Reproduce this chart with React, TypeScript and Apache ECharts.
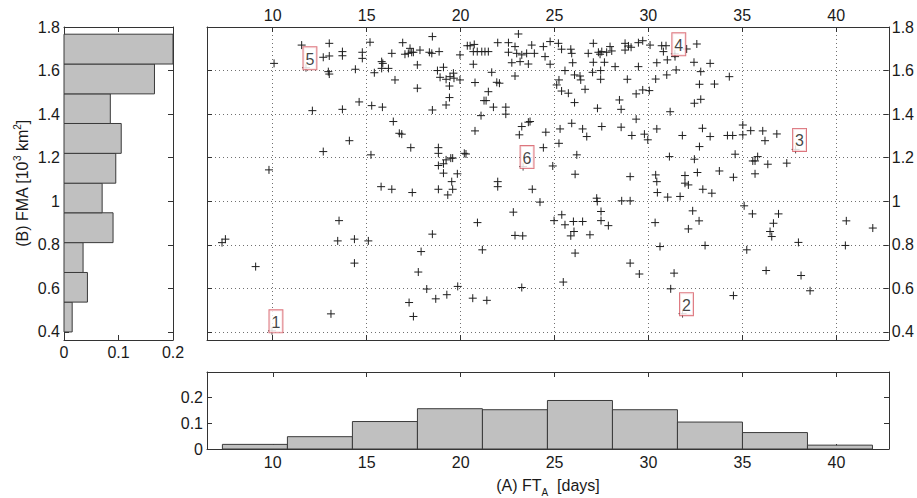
import React, { useEffect, useRef } from 'react';
import * as echarts from 'echarts';

// ---------- data ----------
const ftaTicks = [10, 15, 20, 25, 30, 35, 40];
const fmaTicks = [0.4, 0.6, 0.8, 1.0, 1.2, 1.4, 1.6, 1.8];
const freqTicks = [0, 0.1, 0.2];

// FT_A histogram (bottom panel): bin edges and relative frequency
const ftaEdges = [7.32, 10.78, 14.24, 17.7, 21.16, 24.62, 28.08, 31.54, 35.0, 38.46, 41.92];
const ftaFreq = [0.018, 0.048, 0.107, 0.157, 0.153, 0.189, 0.153, 0.105, 0.064, 0.015];

// FMA histogram (left panel): bin edges and relative frequency
const fmaEdges = [0.4, 0.537, 0.673, 0.81, 0.947, 1.083, 1.22, 1.357, 1.493, 1.63, 1.767];
const fmaFreq = [0.015, 0.043, 0.035, 0.09, 0.07, 0.095, 0.105, 0.085, 0.166, 0.2];

// labelled events
const markerNames = ['1', '2', '3', '4', '5', '6'];
const markerFT = [9.96, 31.82, 37.84, 31.41, 11.77, 23.33];
const markerFMA = [0.405, 0.484, 1.238, 1.677, 1.613, 1.159];

// scatter samples [FT_A days, FMA 10^3 km^2]
const samples = [
  [11.54, 1.717], [10.07, 1.633], [13.01, 1.725], [12.69, 1.661], [13.01, 1.667], [13.71, 1.687], [13.71, 1.668],
  [14.77, 1.684], [14.77, 1.656], [15.18, 1.73], [16.34, 1.679], [15.8, 1.641], [15.86, 1.633], [15.8, 1.61],
  [16.16, 1.61], [14.4, 1.606], [12.96, 1.595], [13.01, 1.584], [15.41, 1.59], [16.51, 1.557], [12.11, 1.416],
  [13.71, 1.422], [14.6, 1.456], [15.27, 1.439], [15.84, 1.432], [16.42, 1.366], [16.74, 1.312], [14.08, 1.278],
  [12.69, 1.228], [15.23, 1.213], [9.8, 1.144],
  [18.5, 1.756], [16.92, 1.728], [17.04, 1.675], [17.22, 1.679], [17.4, 1.684], [17.49, 1.684], [17.31, 1.702],
  [17.84, 1.694], [18.34, 1.684], [18.47, 1.679], [18.86, 1.687], [19.97, 1.672], [20.36, 1.714], [20.51, 1.714],
  [20.73, 1.72], [20.68, 1.687], [20.89, 1.687], [21.13, 1.687], [21.3, 1.687], [21.48, 1.687], [21.98, 1.728],
  [22.55, 1.728], [23.08, 1.768], [22.9, 1.71], [22.55, 1.684], [22.99, 1.679], [23.26, 1.672], [23.52, 1.679],
  [23.79, 1.717], [23.93, 1.679], [24.41, 1.71], [24.5, 1.664], [24.77, 1.733], [23.17, 1.641], [22.73, 1.636],
  [23.61, 1.63], [24.77, 1.629], [22.9, 1.575], [21.66, 1.592], [20.68, 1.629], [20.77, 1.545], [21.93, 1.546],
  [22.07, 1.542], [21.48, 1.503], [21.36, 1.462], [21.25, 1.462], [21.75, 1.432], [22.41, 1.432], [22.41, 1.4],
  [21.09, 1.393], [20.77, 1.323], [17.7, 1.626], [18.77, 1.6], [19.09, 1.615], [18.91, 1.569], [19.23, 1.56],
  [19.44, 1.572], [19.62, 1.588], [19.65, 1.565], [19.97, 1.557], [19.41, 1.529], [17.7, 1.519], [19.41, 1.476],
  [19.23, 1.442], [18.5, 1.419], [16.87, 1.308], [17.35, 1.246], [18.82, 1.246], [18.82, 1.22], [18.82, 1.164],
  [19.09, 1.172], [19.23, 1.19], [19.48, 1.198], [19.58, 1.198], [19.09, 1.129], [19.83, 1.126], [20.2, 1.22],
  [20.29, 1.217], [23.26, 1.343], [23.61, 1.363], [23.7, 1.366], [23.13, 1.305], [24.41, 1.246], [24.54, 1.317],
  [24.91, 1.162], [25.3, 1.332], [25.24, 1.266], [25.92, 1.358], [26.1, 1.124], [26.19, 1.213], [25.38, 1.698],
  [25.87, 1.698], [25.92, 1.679], [25.21, 1.725], [25.97, 1.636], [25.56, 1.6], [26.07, 1.58], [25.24, 1.557],
  [25.12, 1.534], [25.38, 1.506], [25.74, 1.496], [26.07, 1.453],
  [27.07, 1.725], [26.8, 1.679], [27.34, 1.684], [27.43, 1.675], [27.52, 1.687], [27.96, 1.71], [27.78, 1.684],
  [28.05, 1.69], [28.76, 1.725], [28.94, 1.713], [29.08, 1.707], [28.76, 1.694], [29.47, 1.728], [29.7, 1.737],
  [30.09, 1.717], [30.71, 1.714], [30.94, 1.714], [30.8, 1.687], [32.04, 1.699], [32.58, 1.722], [27.07, 1.638],
  [27.66, 1.638], [28.23, 1.618], [29.47, 1.618], [30.45, 1.636], [31.01, 1.649], [31.42, 1.664], [31.48, 1.603],
  [32.43, 1.638], [33.29, 1.633], [32.79, 1.595], [32.72, 1.537], [33.52, 1.538], [34.31, 1.572], [26.36, 1.575],
  [26.4, 1.557], [27.03, 1.592], [27.46, 1.6], [27.46, 1.56], [28.88, 1.56], [30.39, 1.561], [30.98, 1.58],
  [26.63, 1.514], [29.35, 1.493], [29.7, 1.511], [30.05, 1.508], [28.46, 1.465], [28.55, 1.422], [27.29, 1.427],
  [32.45, 1.45], [32.79, 1.468], [31.16, 1.411], [26.5, 1.332], [26.72, 1.297], [27.52, 1.343], [28.55, 1.34],
  [29.35, 1.377], [29.12, 1.302], [29.79, 1.308], [29.97, 1.282], [30.45, 1.332], [31.81, 1.302], [32.88, 1.335],
  [33.29, 1.297], [34.21, 1.302], [34.49, 1.302], [35.03, 1.35], [35.03, 1.305], [35.45, 1.324], [32.72, 1.251],
  [31.12, 1.205], [32.45, 1.193], [34.62, 1.216], [35.56, 1.185], [35.68, 1.185], [35.82, 1.205], [29.03, 1.113],
  [30.39, 1.121], [31.95, 1.118], [32.61, 1.132], [33.78, 1.139], [34.53, 1.11], [35.68, 1.126],
  [36.09, 1.323], [36.21, 1.278], [36.84, 1.309], [36.36, 1.17], [37.37, 1.175],
  [30.45, 1.09], [30.48, 1.04], [31.95, 1.083], [32.13, 1.075], [31.03, 1.019], [31.69, 1.022], [32.9, 1.055],
  [33.38, 1.037], [27.25, 1.014], [27.28, 0.999], [28.58, 1.002], [29.03, 1.002], [27.48, 0.953], [27.48, 0.911],
  [27.87, 0.888], [26.01, 0.907], [26.5, 0.907], [26.04, 0.861], [26.89, 0.846], [26.1, 0.762], [30.36, 0.902],
  [32.36, 0.956], [32.7, 0.91], [32.13, 0.873], [30.62, 0.792], [33.02, 0.797], [29.03, 0.716], [29.52, 0.666],
  [31.37, 0.67], [31.19, 0.598], [34.53, 0.567], [35.1, 0.979], [35.54, 0.942], [36.93, 0.942], [36.66, 0.899],
  [36.48, 0.861], [36.57, 0.838], [35.24, 0.777], [37.99, 0.811], [36.27, 0.682], [38.13, 0.659], [38.61, 0.589],
  [40.54, 0.91], [41.95, 0.877], [40.49, 0.797],
  [15.77, 1.067], [16.34, 1.055], [17.43, 1.04], [18.82, 1.055], [19.32, 1.029], [19.53, 1.09], [19.58, 1.055],
  [21.98, 1.09], [21.98, 1.067], [23.82, 1.055], [24.23, 0.996], [13.53, 0.911], [13.46, 0.818], [14.35, 0.826],
  [15.09, 0.818], [14.35, 0.716], [9.09, 0.7], [13.1, 0.483], [18.5, 0.849], [17.9, 0.769], [17.75, 0.675],
  [18.2, 0.597], [17.26, 0.535], [17.49, 0.471], [18.68, 0.552], [19.27, 0.571], [19.85, 0.609], [20.65, 0.555],
  [21.4, 0.545], [20.9, 0.902], [21.16, 0.777], [22.81, 0.95], [22.9, 0.843], [23.31, 0.841], [23.26, 0.604],
  [24.98, 0.911], [25.39, 0.938], [25.56, 0.892], [25.87, 0.841], [25.47, 0.629],
  [7.3, 0.81], [7.48, 0.826],
];

// ---------- layout / style ----------
const FT_MIN = 6.5;
const FT_MAX = 42.8;
const FMA_MIN = 0.363;
const FMA_MAX = 1.8;
const FONT = 'Liberation Sans';
const AX = '#333';
const TXT = '#1a1a1a';

const fmt = (v: number) => String(Math.round(v * 10) / 10);

const axisLine = { show: true, onZero: false, lineStyle: { color: AX, width: 1 } };
const tick = (vals: number[]) => ({ show: true, inside: true, length: 5, customValues: vals, lineStyle: { color: AX, width: 1 } });
const label = (vals: number[], margin: number) => ({
  show: true, customValues: vals, margin, formatter: fmt, color: TXT, fontFamily: FONT, fontSize: 16,
});
const noLabel = { show: false };
const dotted = { show: true, lineStyle: { color: '#707070', width: 1, type: [1, 3] } };

export default function App() {
  const ref = useRef<HTMLDivElement>(null);
  useEffect(() => {
    if (!ref.current) return;
    const chart = echarts.init(ref.current, null, { renderer: 'svg' });

    const ftaBins = ftaFreq.map((f, i) => [ftaEdges[i], ftaEdges[i + 1], f]);
    const fmaBins = fmaFreq.map((f, i) => [fmaEdges[i], fmaEdges[i + 1], f]);
    const marks = markerNames.map((n, i) => ({ name: n, value: [markerFT[i], markerFMA[i]] }));

    const ftRange = { type: 'value', min: FT_MIN, max: FT_MAX };
    const fmaRange = { type: 'value', min: FMA_MIN, max: FMA_MAX };

    chart.setOption({
      animation: false,
      backgroundColor: '#fff',
      grid: [
        { left: 207, top: 27, width: 682, height: 313 },
        { left: 64, top: 27, width: 109, height: 313 },
        { left: 207, top: 372, width: 682, height: 82 },
      ],
      xAxis: [
        { ...ftRange, gridIndex: 0, position: 'top', axisLine, axisTick: tick(ftaTicks), axisLabel: label(ftaTicks, 4), splitLine: dotted },
        { ...ftRange, gridIndex: 0, position: 'bottom', axisLine, axisTick: tick(ftaTicks), axisLabel: noLabel, splitLine: { show: false } },
        { type: 'value', min: 0, max: 0.2, gridIndex: 1, position: 'bottom', axisLine, axisTick: tick(freqTicks), axisLabel: label(freqTicks, 4), splitLine: { show: false } },
        { type: 'value', min: 0, max: 0.2, gridIndex: 1, position: 'top', axisLine, axisTick: tick(freqTicks), axisLabel: noLabel, splitLine: { show: false } },
        {
          ...ftRange, gridIndex: 2, position: 'bottom', axisLine, axisTick: tick(ftaTicks), axisLabel: label(ftaTicks, 5), splitLine: { show: false },
          name: '(A) FT{sub|A}  [days]', nameLocation: 'middle', nameGap: 24,
          nameTextStyle: {
            color: TXT, fontFamily: FONT, fontSize: 16,
            rich: { sub: { fontFamily: FONT, fontSize: 10, color: TXT, padding: [14, 0, 0, 0] } },
          },
        },
        { ...ftRange, gridIndex: 2, position: 'top', axisLine, axisTick: tick(ftaTicks), axisLabel: noLabel, splitLine: { show: false } },
      ],
      yAxis: [
        { ...fmaRange, gridIndex: 0, position: 'right', axisLine, axisTick: tick(fmaTicks), axisLabel: label(fmaTicks, 3), splitLine: dotted },
        { ...fmaRange, gridIndex: 0, position: 'left', axisLine, axisTick: tick(fmaTicks), axisLabel: noLabel, splitLine: { show: false } },
        {
          ...fmaRange, gridIndex: 1, position: 'left', axisLine, axisTick: tick(fmaTicks), axisLabel: label(fmaTicks, 4), splitLine: { show: false },
          name: '(B) FMA [10{sup|3} km{sup|2}]', nameLocation: 'middle', nameGap: 32,
          nameTextStyle: {
            color: TXT, fontFamily: FONT, fontSize: 16,
            rich: { sup: { fontFamily: FONT, fontSize: 10, color: TXT, padding: [0, 0, 10, 0] } },
          },
        },
        { ...fmaRange, gridIndex: 1, position: 'right', axisLine, axisTick: tick(fmaTicks), axisLabel: noLabel, splitLine: { show: false } },
        { type: 'value', min: 0, max: 0.3, gridIndex: 2, position: 'left', axisLine, axisTick: tick(freqTicks), axisLabel: label(freqTicks, 4), splitLine: { show: false } },
        { type: 'value', min: 0, max: 0.3, gridIndex: 2, position: 'right', axisLine, axisTick: tick(freqTicks), axisLabel: noLabel, splitLine: { show: false } },
      ],
      series: [
        {
          type: 'scatter', xAxisIndex: 0, yAxisIndex: 0, z: 3,
          symbol: 'path://M5,0L5,10M0,5L10,5', symbolSize: 8,
          itemStyle: { color: 'transparent', borderColor: '#1e1e1e', borderWidth: 1, opacity: 1 },
          data: samples,
        },
        {
          type: 'scatter', xAxisIndex: 0, yAxisIndex: 0, z: 6,
          symbol: 'path://M5,0L5,10M0,5L10,5', symbolSize: 8,
          itemStyle: { color: 'transparent', borderColor: '#1e1e1e', borderWidth: 1 },
          label: {
            show: true, formatter: '{b}', position: [2, 6], align: 'left', verticalAlign: 'bottom',
            fontFamily: FONT, fontSize: 16, lineHeight: 18, color: '#111',
            padding: [3, 2, 1, 2], borderColor: '#d4545e', borderWidth: 1, backgroundColor: '#fff',
          },
          data: marks,
        },
        {
          type: 'custom', xAxisIndex: 4, yAxisIndex: 4,
          encode: { x: [0, 1], y: 2 },
          renderItem: (_p: any, api: any) => {
            const a = api.coord([api.value(0), 0]);
            const b = api.coord([api.value(1), api.value(2)]);
            return {
              type: 'rect',
              shape: { x: a[0], y: b[1], width: b[0] - a[0], height: a[1] - b[1] },
              style: { fill: '#c0c0c0', stroke: '#3a3a3a', lineWidth: 1 },
            };
          },
          data: ftaBins,
        },
        {
          type: 'custom', xAxisIndex: 2, yAxisIndex: 2,
          encode: { x: 2, y: [0, 1] },
          renderItem: (_p: any, api: any) => {
            const a = api.coord([0, api.value(0)]);
            const b = api.coord([api.value(2), api.value(1)]);
            return {
              type: 'rect',
              shape: { x: a[0], y: b[1], width: b[0] - a[0], height: a[1] - b[1] },
              style: { fill: '#c0c0c0', stroke: '#3a3a3a', lineWidth: 1 },
            };
          },
          data: fmaBins,
        },
      ],
    });
    return () => chart.dispose();
  }, []);
  return <div ref={ref} style={{ position: 'fixed', left: 0, top: 0, width: 917, height: 498, background: '#fff' }} />;
}
